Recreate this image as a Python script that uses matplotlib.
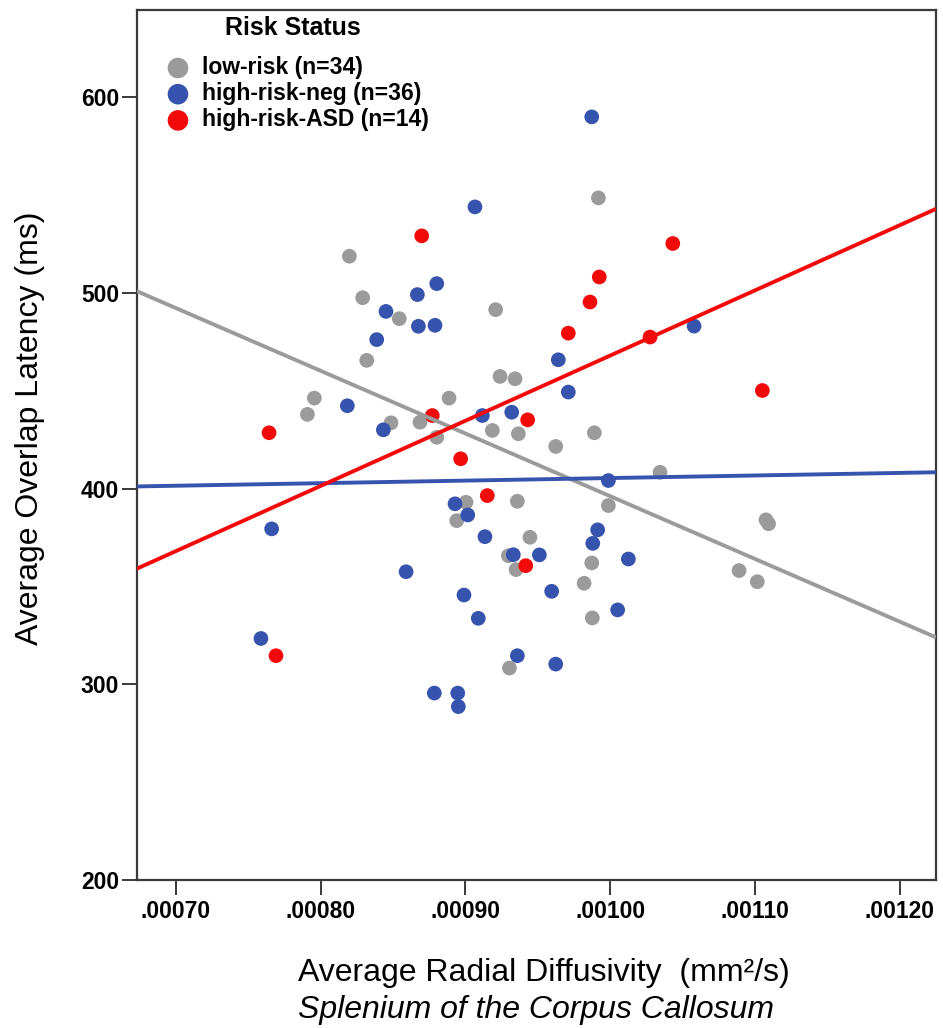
import numpy as np
import matplotlib
matplotlib.use('Agg')
import matplotlib.pyplot as plt

plt.rcParams['font.family'] = ['Liberation Sans', 'DejaVu Sans']

group_labels = ['low-risk (n=34)', 'high-risk-neg (n=36)', 'high-risk-ASD (n=14)']
group_colors = ['#9b9b9b', '#3654ae', '#f20a0a']

low_x = [0.0008198, 0.0008290, 0.0008543, 0.0009209, 0.0008318, 0.0009239, 0.0009343,
         0.0007956, 0.0007908, 0.0008887, 0.0008486, 0.0008686, 0.0008802, 0.0009186,
         0.0009366, 0.0009624, 0.0009891, 0.0010345, 0.0009004, 0.0008940, 0.0009359,
         0.0009446, 0.0009297, 0.0009350, 0.0009988, 0.0011077, 0.0011095, 0.0009873,
         0.0009820, 0.0010891, 0.0011017, 0.0009877, 0.0009304, 0.0009919]
low_y = [518.7, 497.5, 486.8, 491.4, 465.5, 457.3, 456.1, 446.2, 437.9, 446.2, 433.6,
         433.9, 426.2, 429.7, 428.0, 421.5, 428.5, 408.3, 393.0, 383.6, 393.5, 375.1,
         365.7, 358.6, 391.3, 384.0, 382.0, 362.0, 351.6, 358.1, 352.4, 333.9, 308.3, 548.5]

neg_x = [0.0009066, 0.0008802, 0.0008668, 0.0008451, 0.0008675, 0.0008790, 0.0008387,
         0.0009642, 0.0009711, 0.0008184, 0.0008433, 0.0009117, 0.0009320, 0.0009873,
         0.0010580, 0.0008928, 0.0009016, 0.0009135, 0.0009331, 0.0009511, 0.0007661,
         0.0008590, 0.0008990, 0.0009596, 0.0009089, 0.0007587, 0.0009359, 0.0009624,
         0.0008785, 0.0008947, 0.0008951, 0.0009988, 0.0009914, 0.0009880, 0.0010126,
         0.0010052]
neg_y = [543.9, 504.7, 499.1, 490.5, 482.9, 483.4, 476.1, 465.8, 449.3, 442.3, 430.0,
         437.3, 439.0, 589.9, 483.0, 392.2, 386.5, 375.4, 366.2, 366.1, 379.4, 357.5,
         345.6, 347.5, 333.7, 323.4, 314.6, 310.3, 295.5, 295.5, 288.6, 404.1, 378.9,
         372.0, 364.0, 338.0]

asd_x = [0.0008698, 0.0009711, 0.0007643, 0.0008771, 0.0008967, 0.0009430, 0.0009151,
         0.0009417, 0.0007691, 0.0010433, 0.0009925, 0.0009861, 0.0010276, 0.0011052]
asd_y = [529.1, 479.4, 428.5, 437.3, 415.2, 435.1, 396.4, 360.6, 314.6, 525.2, 508.1,
         495.3, 477.4, 450.1]

x_ticks = [0.00070, 0.00080, 0.00090, 0.00100, 0.00110, 0.00120]
x_tick_labels = ['.00070', '.00080', '.00090', '.00100', '.00110', '.00120']
y_ticks = [200, 300, 400, 500, 600]
x_limits = (0.0006727, 0.0012252)
y_limits = (200, 644.5)

legend_title = 'Risk Status'
x_label_1 = 'Average Radial Diffusivity  (mm\u00b2/s)'
x_label_2 = 'Splenium of the Corpus Callosum'
y_label = 'Average Overlap Latency (ms)'

W, H = 943, 1028
fig = plt.figure(figsize=(W / 100, H / 100), dpi=100)
ax = fig.add_axes([136.5 / W, 1 - 880 / H, (936 - 136.5) / W, (880 - 10) / H])

series = [(low_x, low_y), (neg_x, neg_y), (asd_x, asd_y)]
handles = []
for (xs, ys), col, lab in zip(series, group_colors, group_labels):
    h = ax.scatter(xs, ys, s=112, color=col, edgecolors='none', zorder=2, label=lab)
    handles.append(h)

xx = np.array(x_limits)
for (xs, ys), col in zip(series, group_colors):
    k, b = np.polyfit(xs, ys, 1)
    ax.plot(xx, k * xx + b, color=col, lw=2.8, zorder=3, solid_capstyle='butt')

ax.set_xlim(*x_limits)
ax.set_ylim(*y_limits)
ax.set_xticks(x_ticks)
ax.set_xticklabels(x_tick_labels)
ax.set_yticks(y_ticks)

for sp in ax.spines.values():
    sp.set_color('#3a3a3a')
    sp.set_linewidth(1.6)

ax.tick_params(axis='both', which='both', direction='out', length=10.5, width=1.4,
               color='#3a3a3a', labelsize=16.5, top=False, right=False)
ax.tick_params(axis='x', pad=4)
ax.tick_params(axis='y', pad=2)
for t in ax.get_xticklabels() + ax.get_yticklabels():
    t.set_fontweight('bold')

ax.set_ylabel(y_label, fontsize=23)
ax.yaxis.set_label_coords((45.5 - 136.5) / (936 - 136.5), 1 - (428 - 10) / 870)

fig.text(298 / W, 1 - 981 / H, x_label_1, fontsize=23, ha='left', va='baseline')
fig.text(298 / W, 1 - 1018 / H, x_label_2, fontsize=23, style='italic', ha='left', va='baseline')

fig.text(293 / W, 1 - 28 / H, legend_title, fontsize=18, fontweight='bold', ha='center', va='center')
leg = fig.legend(handles=handles, loc='upper left',
                 bbox_to_anchor=(166.5 / W, 1 - 56 / H), bbox_transform=fig.transFigure,
                 frameon=False, borderpad=0, borderaxespad=0, labelspacing=0.14,
                 handlelength=1.0, handletextpad=0.55, markerscale=1.4,
                 prop={'size': 16.5, 'weight': 'bold'})

fig.savefig('out.png', dpi=100)
